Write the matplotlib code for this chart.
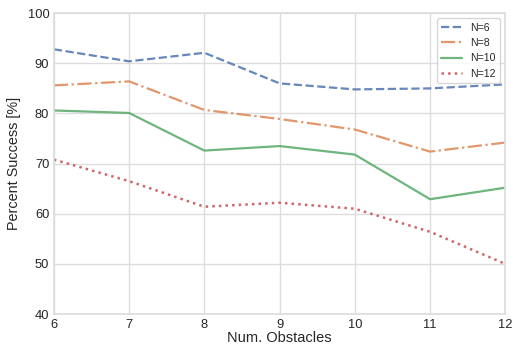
import matplotlib
matplotlib.use("Agg")
import matplotlib.pyplot as plt
import seaborn as sns

sns.set_theme(style="whitegrid", palette="deep")
plt.rcParams['font.family'] = ['Arial', 'Liberation Sans', 'DejaVu Sans']

x = [6, 7, 8, 9, 10, 11, 12]
n6 = [92.8, 90.4, 92.1, 86.0, 84.8, 85.0, 85.8]
n8 = [85.6, 86.4, 80.7, 78.9, 76.8, 72.4, 74.2]
n10 = [80.6, 80.1, 72.6, 73.5, 71.8, 62.9, 65.2]
n12 = [70.8, 66.5, 61.4, 62.2, 61.0, 56.4, 50.0]
labels = ["N=6", "N=8", "N=10", "N=12"]

fig, ax = plt.subplots(figsize=(5.13, 3.47), dpi=100)
pal = sns.color_palette("deep")
a = 0.85
ax.plot(x, n6, '--', color=pal[0], lw=1.6, alpha=a, label=labels[0])
ax.plot(x, n8, '-.', color=pal[1], lw=1.6, alpha=a, label=labels[1])
ax.plot(x, n10, '-', color=pal[2], lw=1.6, alpha=a, label=labels[2])
ax.plot(x, n12, ':', color=pal[3], lw=1.8, alpha=a, label=labels[3])
ax.set_xlim(6, 12)
ax.set_ylim(40, 100)
ax.set_xlabel("Num. Obstacles", fontsize=10.5, labelpad=0)
ax.set_ylabel("Percent Success [%]", fontsize=10.4, labelpad=4.5)
ax.tick_params(labelsize=9.3, pad=3.3, length=0)
for s in ax.spines.values():
    s.set_color("#dddddd")
ax.grid(color="#dddddd")
ax.legend(fontsize=7.6, loc="upper right", frameon=True)
fig.subplots_adjust(left=0.105, right=0.985, top=0.962, bottom=0.095)
fig.savefig("out.png", dpi=100)
